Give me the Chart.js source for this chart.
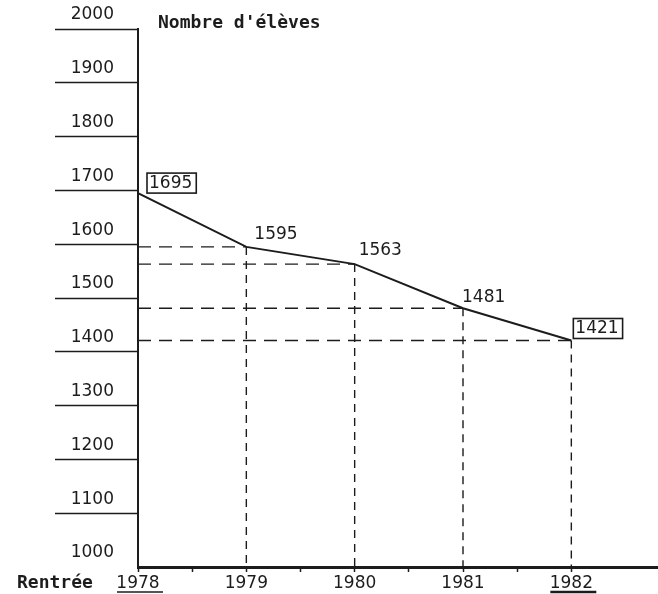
<!DOCTYPE html>
<html>
<head>
<meta charset="utf-8">
<script src="https://cdn.jsdelivr.net/npm/chart.js@4/dist/chart.umd.min.js"></script>
<style>
  html, body { margin: 0; padding: 0; background: #fff; }
  canvas { display: block; }
</style>
</head>
<body>
<canvas id="myChart" width="658" height="594"></canvas>
<script>
// rentrées scolaires et nombre d'élèves
var years = [1978, 1979, 1980, 1981, 1982];
var pupils = [1695, 1595, 1563, 1481, 1421];
var boxedYears = [1978, 1982];
var underlinedYears = [1978, 1982];
var yTitle = "Nombre d'élèves";
var xTitle = "Rentrée";

var ink = "#1c1c1c";

// value label placement relative to the point (dx, dy = text centre)
var labelPos = [[9, -10], [6, -12], [2, -14], [-3, -11], [2, -12]];

var points = years.map(function (y, i) { return { x: y, y: pupils[i] }; });

// dashed guide lines: horizontal from y axis, vertical down to x axis
var guides = [];
for (var i = 1; i < years.length; i++) {
  guides.push({
    data: [{ x: years[0], y: pupils[i] }, { x: years[i], y: pupils[i] }],
    borderColor: ink, borderWidth: 1.4, borderDash: [13, 8],
    pointRadius: 0, fill: false
  });
  guides.push({
    data: [{ x: years[i], y: pupils[i] }, { x: years[i], y: 1000 }],
    borderColor: ink, borderWidth: 1.4, borderDash: [8, 6],
    pointRadius: 0, fill: false
  });
}

var labelPlugin = {
  id: "labels",
  afterDraw: function (chart) {
    var ctx = chart.ctx;
    var xs = chart.scales.x, ys = chart.scales.y;
    ctx.save();
    ctx.fillStyle = ink;
    ctx.strokeStyle = ink;
    ctx.font = "17px 'DejaVu Sans'";
    ctx.textBaseline = "middle";
    ctx.textAlign = "left";
    pupils.forEach(function (v, i) {
      var px = xs.getPixelForValue(years[i]);
      var py = ys.getPixelForValue(v);
      var tx = px + labelPos[i][0], ty = py + labelPos[i][1];
      var txt = String(v);
      ctx.fillText(txt, tx + 2, ty);
      if (boxedYears.indexOf(years[i]) >= 0) {
        var w = ctx.measureText(txt).width;
        ctx.lineWidth = 1.6;
        ctx.strokeRect(tx, ty - 10, w + 6, 20);
      }
    });
    // underlined year labels
    underlinedYears.forEach(function (y, k) {
      var cx = xs.getPixelForValue(y);
      ctx.lineWidth = k === 0 ? 1.4 : 2.4;
      ctx.beginPath();
      ctx.moveTo(cx - 21, 592);
      ctx.lineTo(cx + 25, 592);
      ctx.stroke();
    });
    ctx.font = "bold 18px 'DejaVu Sans Mono'";
    ctx.fillText(yTitle, 158, 23);
    ctx.fillText(xTitle, 17, 583);
    ctx.restore();
  }
};

new Chart("myChart", {
  type: "line",
  data: {
    datasets: [{
      data: points,
      borderColor: ink,
      borderWidth: 2,
      pointRadius: 0,
      tension: 0,
      fill: false
    }].concat(guides)
  },
  options: {
    responsive: false,
    animation: false,
    layout: { padding: { top: 29, left: 0, right: 0, bottom: 0 } },
    plugins: { legend: { display: false }, tooltip: { enabled: false } },
    scales: {
      x: {
        type: "linear",
        min: 1978,
        max: 1982.8,
        afterBuildTicks: function (s) {
          s.ticks = s.ticks.filter(function (t) { return Math.abs(t.value * 2 - Math.round(t.value * 2)) < 1e-6; });
        },
        afterFit: function (s) { s.height = 27; },
        grid: { drawOnChartArea: false, tickLength: 5, tickWidth: 1.5, tickColor: ink },
        border: { color: ink, width: 3 },
        ticks: {
          stepSize: 0.5,
          autoSkip: false,
          maxRotation: 0,
          padding: 1,
          color: ink,
          font: { family: "'DejaVu Sans'", size: 17 },
          callback: function (v) { return Number.isInteger(v) ? String(v) : ""; }
        }
      },
      y: {
        min: 1000,
        max: 2000,
        afterFit: function (s) { s.width = 138; },
        grid: {
          drawOnChartArea: false,
          tickLength: 83,
          tickWidth: 1.6,
          tickColor: function (c) { return c.tick && c.tick.value === 1000 ? "rgba(0,0,0,0)" : ink; }
        },
        border: { color: ink, width: 2 },
        ticks: {
          stepSize: 100,
          padding: -59,
          labelOffset: -14,
          color: ink,
          font: { family: "'DejaVu Sans'", size: 17 },
          callback: function (v) { return String(v); }
        }
      }
    }
  },
  plugins: [labelPlugin]
});
</script>
</body>
</html>
